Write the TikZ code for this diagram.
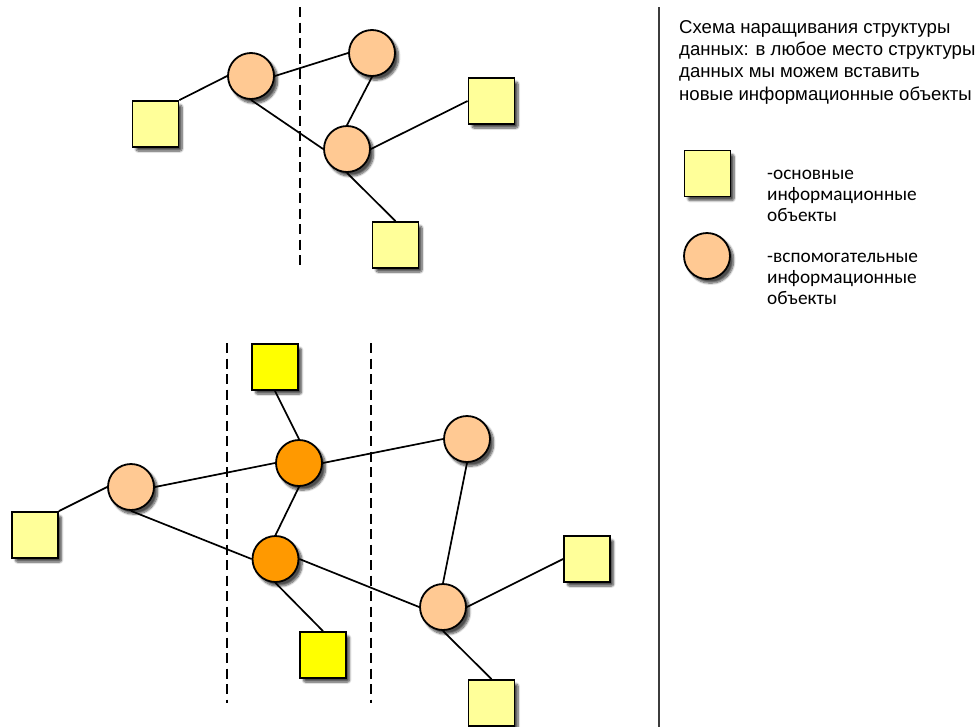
\documentclass[tikz,border=0pt]{standalone}
\usepackage{fontspec}
\setmainfont{Liberation Sans}
\newfontfamily\legendfont{Carlito}
\usetikzlibrary{shadows.blur}

\definecolor{paleyellow}{HTML}{FFFF99}
\definecolor{brightyellow}{HTML}{FFFF00}
\definecolor{paleorange}{HTML}{FFC993}
\definecolor{deeporange}{HTML}{FF9900}
\definecolor{rulegray}{HTML}{3C3C3C}

\tikzset{
  objshadow/.style={blur shadow={shadow xshift=3.5pt, shadow yshift=-4pt,
      shadow blur steps=8, shadow blur extra rounding=2pt, shadow opacity=70}},
  mainobj/.style={draw=black, line width=1.8pt, fill=paleyellow,
      minimum size=46pt, inner sep=0pt, objshadow},
  newmain/.style={mainobj, fill=brightyellow},
  auxobj/.style={circle, draw=black, line width=1.8pt, fill=paleorange,
      minimum size=46pt, inner sep=0pt, objshadow},
  newaux/.style={auxobj, fill=deeporange},
  link/.style={line width=1.7pt},
  cut/.style={line width=1.8pt, dash pattern=on 10pt off 5.5pt},
  legendtext/.style={anchor=base west, inner sep=0pt, align=left,
      font=\legendfont\fontsize{19.3}{21}\selectfont},
}

\begin{document}
\begin{tikzpicture}[x=1pt, y=-1pt]
  \useasboundingbox (0,0) rectangle (977,726);
  \clip (0,0) rectangle (977,726);

  % cut lines
  \draw[cut] (300,7) coordinate (c1a) -- (300,265) coordinate (c1b);
  \draw[cut] (227,343) coordinate (c2a) -- (227,703) coordinate (c2b);
  \draw[cut] (371,343) coordinate (c3a) -- (371,703) coordinate (c3b);

  % separator
  \draw[rulegray, line width=2pt] (659,7) coordinate (sepa) -- (659,730) coordinate (sepb);

  % ---- original structure ----
  \node[auxobj]  (A)  at (251,76)    {};
  \node[auxobj]  (B)  at (372,53)    {};
  \node[auxobj]  (C)  at (347,149)   {};
  \node[mainobj] (s1) at (155.5,124) {};
  \node[mainobj] (s2) at (491.5,101) {};
  \node[mainobj] (s3) at (395.5,245) {};

  \draw[link] (s1.north east) -- (A.west);
  \draw[link] (A.east) -- (B.west);
  \draw[link] (A.south) -- (C.west);
  \draw[link] (B.south) -- (C.north);
  \draw[link] (C.east) -- (s2.west);
  \draw[link] (C.south) -- (s3.north);

  % ---- extended structure ----
  \node[auxobj]  (L)  at (131,487)   {};
  \node[newaux]  (T)  at (299,463)   {};
  \node[newaux]  (M)  at (275.5,559) {};
  \node[auxobj]  (R1) at (467,439)   {};
  \node[auxobj]  (R2) at (443,607)   {};
  \node[mainobj] (q1) at (35,535)    {};
  \node[newmain] (q2) at (275,367)   {};
  \node[newmain] (q3) at (323,655)   {};
  \node[mainobj] (q4) at (587,559)   {};
  \node[mainobj] (q5) at (491.5,703) {};

  \draw[link] (q1.north east) -- (L.west);
  \draw[link] (L.east) -- (T.west);
  \draw[link] (L.south) -- (M.west);
  \draw[link] (T.east) -- (R1.west);
  \draw[link] (T.north) -- (q2.south);
  \draw[link] (T.south) -- (M.north);
  \draw[link] (M.east) -- (R2.west);
  \draw[link] (M.south) -- (q3.north);
  \draw[link] (R1.south) -- (R2.north);
  \draw[link] (R2.east) -- (q4.west);
  \draw[link] (R2.south) -- (q5.north);

  % ---- legend ----
  % base anchor of a multi-line node sits on its last line
  \node[anchor=base west, inner sep=0pt, align=left,
        font=\fontsize{18.6}{22.3}\selectfont] (title) at (679,100)
    {Схема наращивания структуры\\данных: в любое место структуры\\данных мы можем вставить\\новые информационные объекты};

  \node[mainobj] (keymain) at (707.5,173.5) {};
  \node[auxobj]  (keyaux)  at (707,256)     {};
  \node[legendtext] (keymaintext) at (767,221)
    {-основные\\информационные\\объекты};
  \node[legendtext] (keyauxtext) at (767,304)
    {-вспомогательные\\информационные\\объекты};
\end{tikzpicture}
\end{document}
